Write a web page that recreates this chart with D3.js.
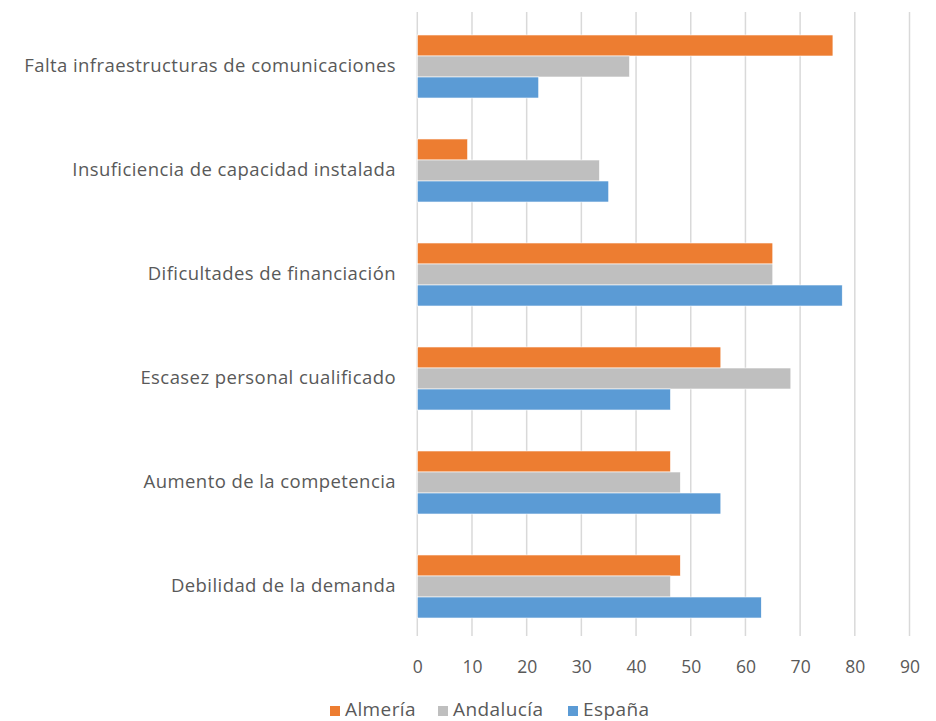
<html>
<head>
  <meta charset="utf-8">
  <script src="https://d3js.org/d3.v7.min.js"></script>
  <style>
    body { margin: 0; background: #fff; }
    text { font-family: "Open Sans", Lato, sans-serif; fill: #595959; }
  </style>
</head>
<body>
  <svg id="chart" width="936" height="721"></svg>
  <script>
    // data (percent)
    var categories = [
      "Falta infraestructuras de comunicaciones",
      "Insuficiencia de capacidad instalada",
      "Dificultades de financiación",
      "Escasez personal cualificado",
      "Aumento de la competencia",
      "Debilidad de la demanda"
    ];
    var seriesNames = ["Almería", "Andalucía", "España"];
    var almeria   = [76, 9.2, 65, 55.5, 46.3, 48.1];
    var andalucia = [38.8, 33.3, 65, 68.3, 48.1, 46.3];
    var espana    = [22.2, 35, 77.7, 46.3, 55.5, 62.9];
    var seriesColors = ["#ED7D31", "#BFBFBF", "#5B9BD5"];
    var xTicks = [0, 10, 20, 30, 40, 50, 60, 70, 80, 90];

    var values = [almeria, andalucia, espana];
    var rows = [];
    categories.forEach(function(c, i) {
      seriesNames.forEach(function(s, j) {
        rows.push({cat: c, series: s, value: values[j][i]});
      });
    });

    var svg = d3.select("#chart");
    var x = d3.scaleLinear().domain([0, 90]).range([417.3, 909.5]);
    var y = d3.scaleBand().domain(categories).range([14.5, 638.5])
      .paddingInner(0.394).paddingOuter(0.197);
    var y1 = d3.scaleBand().domain(seriesNames).range([0, y.bandwidth()]);
    var color = d3.scaleOrdinal().domain(seriesNames).range(seriesColors);

    // gridlines
    svg.append("g").selectAll("line").data(xTicks).enter().append("line")
      .attr("x1", d => x(d)).attr("x2", d => x(d))
      .attr("y1", 12).attr("y2", 636)
      .attr("stroke", "#D9D9D9").attr("stroke-width", 1.5);

    // bars
    svg.append("g").selectAll("rect").data(rows).enter().append("rect")
      .attr("x", x(0))
      .attr("y", d => y(d.cat) + y1(d.series))
      .attr("width", d => x(d.value) - x(0))
      .attr("height", y1.bandwidth())
      .attr("fill", d => color(d.series))
      .attr("stroke", "#fff").attr("stroke-width", 0.6);

    // x axis labels
    var xAxis = svg.append("g").attr("transform", "translate(0,667)")
      .call(d3.axisBottom(x).tickValues(xTicks).tickSize(0).tickPadding(0));
    xAxis.select(".domain").remove();
    xAxis.selectAll("text").attr("font-size", 17.5).attr("dy", "0.35em")
      .style("font-family", "'Open Sans', sans-serif").attr("fill", "#595959");

    // category labels
    var yAxis = svg.append("g").attr("transform", "translate(396,0)")
      .call(d3.axisLeft(y).tickSize(0).tickPadding(0));
    yAxis.select(".domain").remove();
    yAxis.selectAll("text").attr("font-size", 18.5)
      .style("font-family", "'Open Sans', sans-serif")
      .style("letter-spacing", "0.43px").attr("fill", "#595959");

    // legend
    var legendX = [330, 438, 568];
    var lg = svg.append("g").selectAll("g").data(seriesNames).enter().append("g")
      .attr("transform", (d, i) => "translate(" + legendX[i] + ",706)");
    lg.append("rect").attr("width", 10).attr("height", 10).attr("fill", d => color(d));
    lg.append("text").attr("x", 15).attr("y", 10).attr("font-size", 19)
      .style("letter-spacing", "0.4px").text(d => d);
  </script>
</body>
</html>
